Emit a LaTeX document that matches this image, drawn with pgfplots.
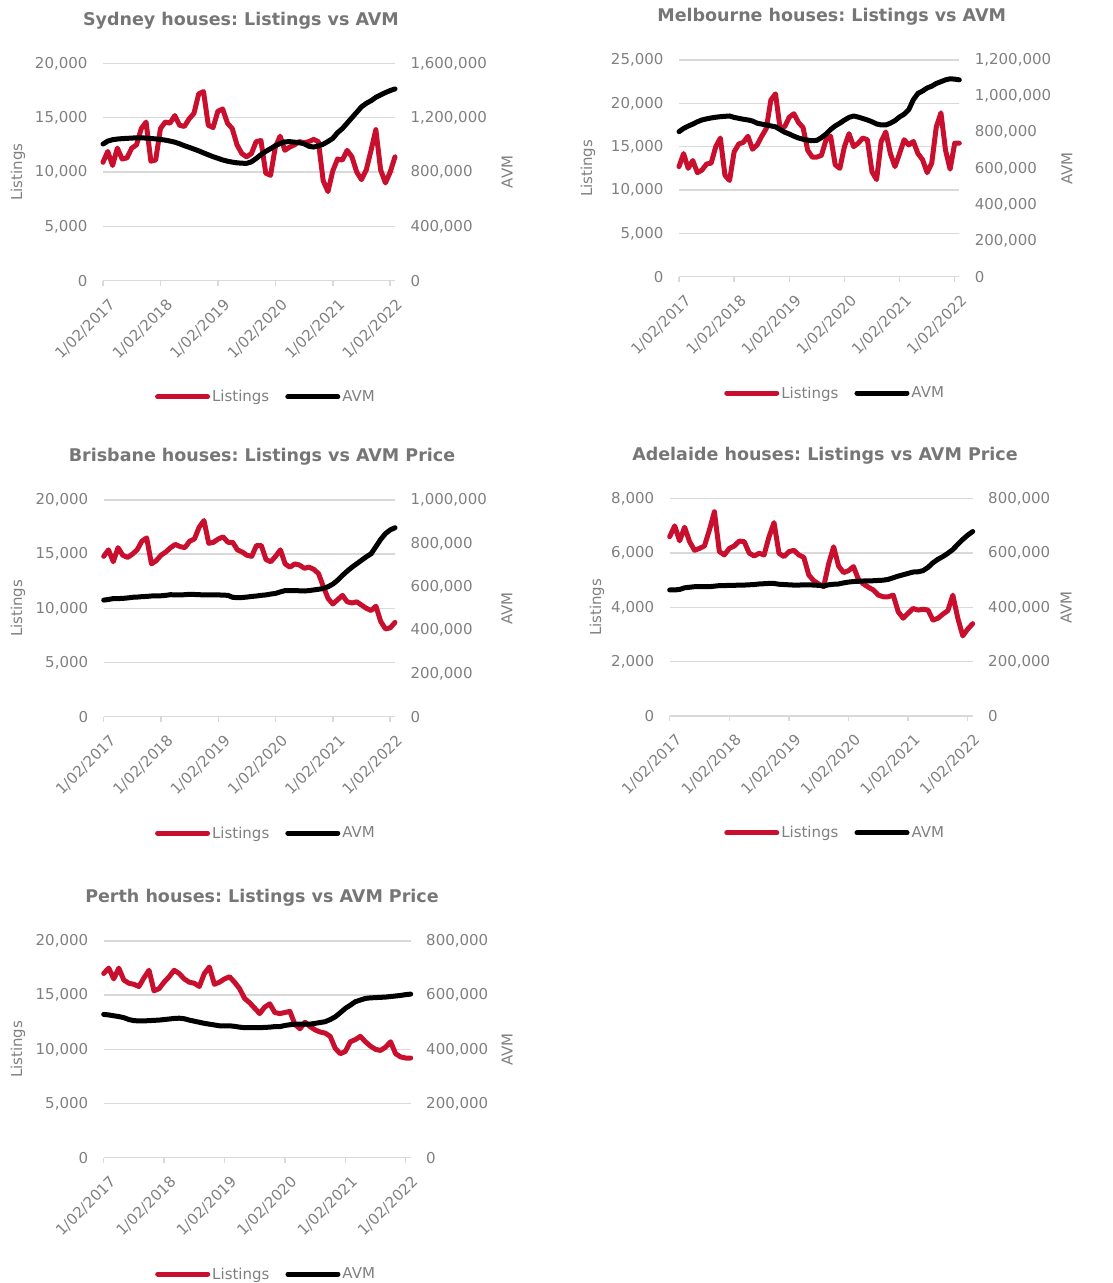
\documentclass[border=0pt]{standalone}
\usepackage{fontspec}
\setmainfont{DejaVu Sans}
\usepackage{pgfplots}
\usepackage{pgfplotstable}
\pgfplotsset{compat=1.18}
\frenchspacing

\definecolor{lred}{HTML}{C8102E}
\definecolor{tgray}{HTML}{808080}
\definecolor{ttl}{HTML}{767676}
\definecolor{grd}{HTML}{D9D9D9}

% month index (0 = 1/02/2017), listings, AVM
\pgfplotstableread{
m L A
0 10900 1006000
1 11900 1028000
2 10600 1038000
3 12200 1043000
4 11200 1046000
5 11300 1048000
6 12200 1050000
7 12500 1052000
8 14000 1052000
9 14600 1050000
10 11000 1047000
11 11100 1044000
12 14000 1040000
13 14600 1035000
14 14500 1028000
15 15200 1020000
16 14300 1008000
17 14200 994000
18 14900 982000
19 15400 969000
20 17200 956000
21 17400 941000
22 14300 927000
23 14100 913000
24 15600 901000
25 15800 889000
26 14500 880000
27 14000 873000
28 12500 868000
29 11700 865000
30 11400 864000
31 11700 875000
32 12800 900000
33 12900 928000
34 9900 952000
35 9700 972000
36 12300 994000
37 13300 1010000
38 12000 1022000
39 12300 1024000
40 12500 1020000
41 12800 1016000
42 12700 1008000
43 12800 990000
44 13000 984000
45 12800 992000
46 9200 1005000
47 8200 1025000
48 10100 1048000
49 11200 1090000
50 11100 1120000
51 12000 1160000
52 11400 1200000
53 10000 1240000
54 9300 1280000
55 10200 1306000
56 12000 1325000
57 13900 1350000
58 10200 1368000
59 9000 1385000
60 10000 1400000
61 11400 1412000
}\sydney

\pgfplotstableread{
m L A
0 12700 803000
1 14200 821000
2 12500 834000
3 13400 845000
4 12000 858000
5 12300 868000
6 13000 874000
7 13100 879000
8 15000 883000
9 16000 886000
10 11700 888000
11 11100 890000
12 14400 882000
13 15300 877000
14 15500 872000
15 16200 868000
16 14700 862000
17 15200 850000
18 16200 845000
19 17100 840000
20 20400 835000
21 21100 830000
22 17100 815000
23 17300 800000
24 18400 790000
25 18800 778000
26 17800 768000
27 17200 761000
28 14600 756000
29 13800 753000
30 13800 755000
31 14000 770000
32 15800 790000
33 16200 815000
34 12900 835000
35 12500 850000
36 15000 867000
37 16500 882000
38 15000 890000
39 15400 884000
40 16000 876000
41 15800 868000
42 12100 858000
43 11200 846000
44 15600 840000
45 16700 840000
46 14200 850000
47 12700 864000
48 14200 885000
49 15800 900000
50 15200 925000
51 15600 980000
52 14200 1015000
53 13500 1028000
54 12000 1045000
55 13100 1055000
56 17300 1070000
57 18900 1080000
58 14600 1090000
59 12400 1096000
60 15400 1094000
61 15400 1090000
}\melbourne

\pgfplotstableread{
m L A
0 14800 538000
1 15400 541000
2 14300 545000
3 15600 545000
4 14900 546000
5 14700 548000
6 15000 551000
7 15400 552000
8 16200 554000
9 16500 555000
10 14100 557000
11 14400 557000
12 14900 558000
13 15200 560000
14 15600 563000
15 15900 562000
16 15700 562000
17 15600 563000
18 16200 565000
19 16400 564000
20 17500 563000
21 18100 562000
22 16000 562000
23 16100 562000
24 16400 562000
25 16600 561000
26 16100 560000
27 16100 551000
28 15400 549000
29 15200 550000
30 14900 552000
31 14800 555000
32 15800 557000
33 15800 560000
34 14500 562000
35 14300 566000
36 14800 569000
37 15400 576000
38 14100 582000
39 13800 582000
40 14100 582000
41 14000 581000
42 13700 580000
43 13800 582000
44 13600 585000
45 13200 588000
46 12000 592000
47 10900 600000
48 10400 612000
49 10800 630000
50 11200 652000
51 10600 672000
52 10500 690000
53 10600 706000
54 10300 722000
55 10000 738000
56 9800 752000
57 10200 785000
58 8800 818000
59 8100 845000
60 8200 862000
61 8700 872000
}\brisbane

\pgfplotstableread{
m L A
0 6600 464000
1 7000 464000
2 6450 466000
3 6950 472000
4 6420 474000
5 6100 476000
6 6170 476000
7 6260 476000
8 6850 476000
9 7520 478000
10 6050 480000
11 5930 480000
12 6170 481000
13 6260 481000
14 6440 482000
15 6420 482000
16 6000 483000
17 5890 484000
18 5990 486000
19 5930 487000
20 6600 488000
21 7120 488000
22 5990 485000
23 5870 484000
24 6050 483000
25 6100 482000
26 5930 482000
27 5840 483000
28 5190 483000
29 4980 482000
30 4860 481000
31 4760 479000
32 5600 483000
33 6230 485000
34 5520 486000
35 5280 490000
36 5350 493000
37 5500 495000
38 5030 496000
39 4860 497000
40 4740 497000
41 4640 498000
42 4450 499000
43 4390 500000
44 4390 503000
45 4450 509000
46 3840 515000
47 3600 520000
48 3780 525000
49 3960 530000
50 3900 531000
51 3930 535000
52 3900 547000
53 3530 564000
54 3600 577000
55 3750 587000
56 3880 599000
57 4450 613000
58 3600 632000
59 2950 650000
60 3200 666000
61 3400 679000
}\adelaide

\pgfplotstableread{
m L A
0 17000 529000
1 17500 527000
2 16500 524000
3 17500 521000
4 16400 517000
5 16100 510000
6 16000 506000
7 15800 505000
8 16600 505000
9 17300 506000
10 15400 507000
11 15600 508000
12 16200 510000
13 16700 512000
14 17300 514000
15 17000 515000
16 16500 513000
17 16200 508000
18 16100 504000
19 15800 500000
20 17000 496000
21 17600 493000
22 16000 490000
23 16200 487000
24 16500 487000
25 16700 487000
26 16200 485000
27 15600 482000
28 14700 480000
29 14300 480000
30 13800 480000
31 13300 480000
32 13900 481000
33 14200 482000
34 13400 484000
35 13300 484000
36 13400 488000
37 13500 491000
38 12300 493000
39 11900 493000
40 12500 493000
41 12100 493000
42 11800 496000
43 11600 499000
44 11500 502000
45 11200 510000
46 10100 520000
47 9600 535000
48 9800 551000
49 10700 563000
50 10900 576000
51 11200 582000
52 10700 588000
53 10300 590000
54 10000 591000
55 9900 592000
56 10200 593000
57 10700 595000
58 9600 597000
59 9300 599000
60 9200 602000
61 9200 604000
}\perth

\pgfplotsset{
  chartbase/.style={
    scale only axis,
    anchor=south west,
    xmin=0, xmax=61, ymin=0,
    scaled ticks=false,
    /pgf/number format/.cd, fixed, 1000 sep={,}, assume math mode=true,
    /pgfplots/.cd,
    tick label style={font=\fontsize{15}{17}\selectfont, text=tgray},
    label style={font=\fontsize{15}{17}\selectfont, text=tgray},
    major tick length=5pt,
    tick align=outside,
    clip=false,
  },
  leftax/.style={chartbase,
    axis x line*=bottom, axis y line*=left,
    y axis line style={draw=none}, ytick style={draw=none},
    yticklabel style={xshift=-7pt},
    x axis line style={draw=grd, line width=1.5pt, -},
    xtick style={draw=grd, line width=1.5pt},
    xtick={0,12,...,60},
    xticklabels={1/02/2017,1/02/2018,1/02/2019,1/02/2020,1/02/2021,1/02/2022},
    xticklabel style={xshift=5pt, yshift=-7pt, rotate=45, anchor=north east},
    ymajorgrids, grid style={draw=grd, line width=1.5pt},
    ylabel={Listings},
    ylabel style={anchor=center},
  },
  rightax/.style={chartbase,
    hide x axis, axis y line*=right,
    y axis line style={draw=none}, ytick style={draw=none},
    yticklabel style={xshift=7pt},
    ylabel={AVM},
    ylabel style={anchor=center},
    legend columns=2,
    legend style={draw=none, fill=none, anchor=center,
      font=\fontsize{15}{17}\selectfont, text=tgray,
      /tikz/every even column/.append style={column sep=14pt}},
    legend image code/.code={\draw[##1] (0pt,0pt) -- (50pt,0pt);},
  },
  lst/.style={lred, line width=5pt, line join=round, line cap=round},
  avm/.style={black, line width=5pt, line join=round, line cap=round},
}

\begin{document}
\begin{tikzpicture}
\useasboundingbox (0,0) rectangle (1113pt,1283pt);
\tikzset{ttlnode/.style={font=\bfseries\fontsize{17.5}{20}\selectfont, text=ttl}}

% Sydney
\begin{axis}[leftax, at={(103pt,1002.3pt)}, width=292pt, height=217.3pt,
  ymax=20000, ytick={0,5000,...,20000},
  ylabel style={at={(axis description cs:-0.291,0.5)}}]
\addplot[lst] table[x=m, y=L] {\sydney};
\end{axis}
\begin{axis}[rightax, at={(103pt,1002.3pt)}, width=292pt, height=217.3pt,
  ymax=1600000, ytick={0,400000,...,1600000},
  ylabel style={at={(axis description cs:1.384,0.5)}},
  legend style={at={(axis description cs:0.558,-0.535)}}]
\addlegendimage{lst}\addlegendentry{Listings}
\addplot[avm] table[x=m, y=A] {\sydney};
\addlegendentry{AVM}
\end{axis}
\node[ttlnode] at (241pt,1262pt) {Sydney houses: Listings vs AVM};

% Melbourne
\begin{axis}[leftax, at={(679pt,1006.3pt)}, width=280.3pt, height=216.7pt,
  ymax=25000, ytick={0,5000,...,25000},
  ylabel style={at={(axis description cs:-0.325,0.5)}}]
\addplot[lst] table[x=m, y=L] {\melbourne};
\end{axis}
\begin{axis}[rightax, at={(679pt,1006.3pt)}, width=280.3pt, height=216.7pt,
  ymax=1200000, ytick={0,200000,...,1200000},
  ylabel style={at={(axis description cs:1.384,0.5)}},
  legend style={at={(axis description cs:0.557,-0.537)}}]
\addlegendimage{lst}\addlegendentry{Listings}
\addplot[avm] table[x=m, y=A] {\melbourne};
\addlegendentry{AVM}
\end{axis}
\node[ttlnode] at (831.7pt,1266pt) {Melbourne houses: Listings vs AVM};

% Brisbane
\begin{axis}[leftax, at={(103.7pt,566.3pt)}, width=291.3pt, height=216.7pt,
  ymax=20000, ytick={0,5000,...,20000},
  ylabel style={at={(axis description cs:-0.294,0.5)}}]
\addplot[lst] table[x=m, y=L] {\brisbane};
\end{axis}
\begin{axis}[rightax, at={(103.7pt,566.3pt)}, width=291.3pt, height=216.7pt,
  ymax=1000000, ytick={0,200000,...,1000000},
  ylabel style={at={(axis description cs:1.384,0.5)}},
  legend style={at={(axis description cs:0.557,-0.537)}}]
\addlegendimage{lst}\addlegendentry{Listings}
\addplot[avm] table[x=m, y=A] {\brisbane};
\addlegendentry{AVM}
\end{axis}
\node[ttlnode] at (262pt,826.3pt) {Brisbane houses: Listings vs AVM Price};

% Adelaide
\begin{axis}[leftax, at={(669.7pt,567pt)}, width=303pt, height=217.3pt,
  ymax=8000, ytick={0,2000,...,8000},
  ylabel style={at={(axis description cs:-0.240,0.5)}}]
\addplot[lst] table[x=m, y=L] {\adelaide};
\end{axis}
\begin{axis}[rightax, at={(669.7pt,567pt)}, width=303pt, height=217.3pt,
  ymax=800000, ytick={0,200000,...,800000},
  ylabel style={at={(axis description cs:1.308,0.5)}},
  legend style={at={(axis description cs:0.546,-0.538)}}]
\addlegendimage{lst}\addlegendentry{Listings}
\addplot[avm] table[x=m, y=A] {\adelaide};
\addlegendentry{AVM}
\end{axis}
\node[ttlnode] at (825pt,827pt) {Adelaide houses: Listings vs AVM Price};

% Perth
\begin{axis}[leftax, at={(103.7pt,125.3pt)}, width=307pt, height=216.7pt,
  ymax=20000, ytick={0,5000,...,20000},
  ylabel style={at={(axis description cs:-0.279,0.5)}}]
\addplot[lst] table[x=m, y=L] {\perth};
\end{axis}
\begin{axis}[rightax, at={(103.7pt,125.3pt)}, width=307pt, height=216.7pt,
  ymax=800000, ytick={0,200000,...,800000},
  ylabel style={at={(axis description cs:1.314,0.5)}},
  legend style={at={(axis description cs:0.529,-0.537)}}]
\addlegendimage{lst}\addlegendentry{Listings}
\addplot[avm] table[x=m, y=A] {\perth};
\addlegendentry{AVM}
\end{axis}
\node[ttlnode] at (262pt,385pt) {Perth houses: Listings vs AVM Price};

\end{tikzpicture}
\end{document}
